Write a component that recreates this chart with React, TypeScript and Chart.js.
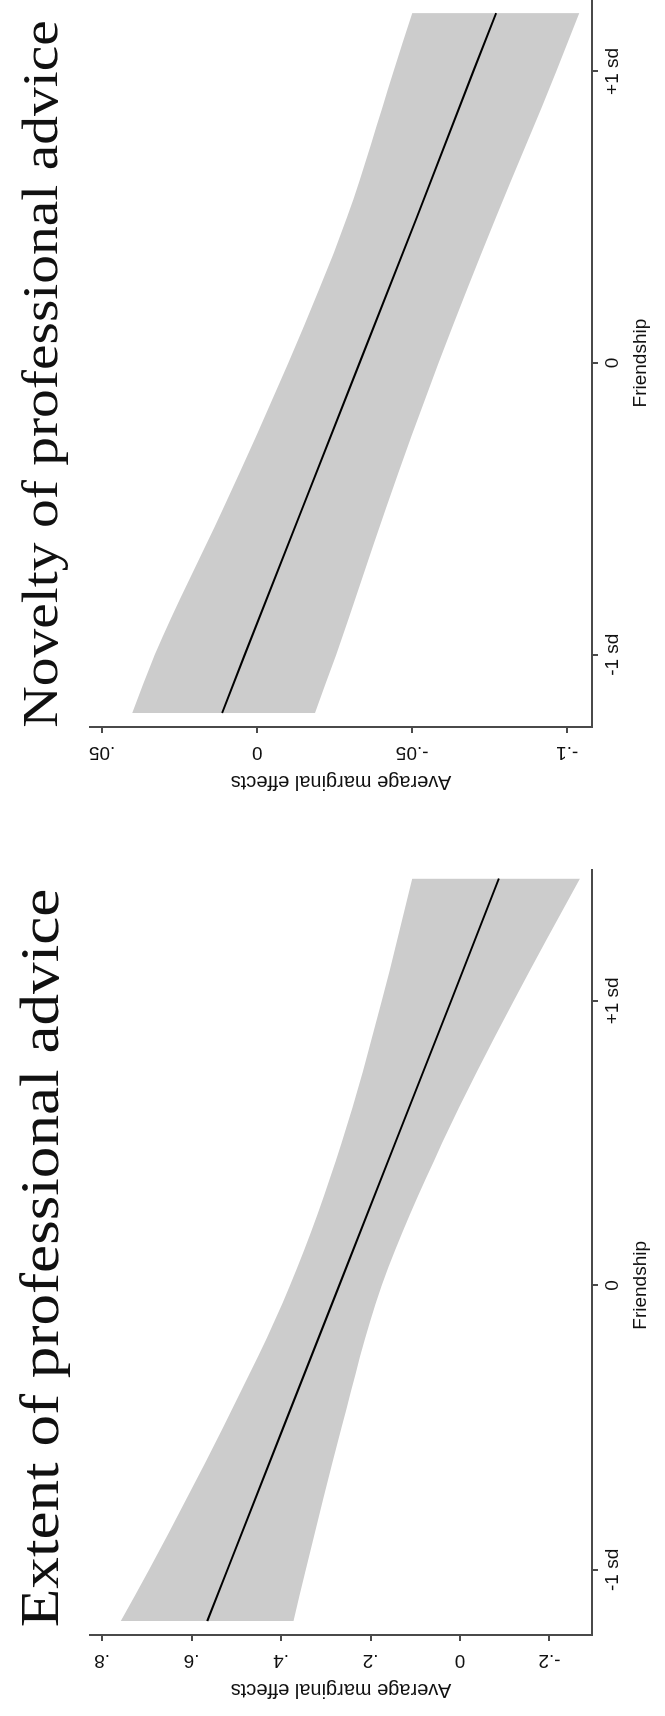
import React, { useEffect, useRef } from 'react';
import { Chart, registerables } from 'chart.js';

Chart.register(...registerables);

// ---------- data ----------
const friendshipTicks = [-1, 0, 1];
const friendshipTickLabels = ['-1 sd', '0', '+1 sd'];

const extentX = [-1.18, -1, -0.5, 0, 0.5, 1, 1.43];
const extentEffect = [0.565, 0.52, 0.395, 0.27, 0.145, 0.02, -0.087];
const extentUpper = [0.758, 0.695, 0.53, 0.38, 0.265, 0.175, 0.107];
const extentLower = [0.372, 0.345, 0.265, 0.175, 0.04, -0.12, -0.268];
const extentYTicks = [-0.2, 0, 0.2, 0.4, 0.6, 0.8];
const extentYTickLabels = ['-.2', '0', '.2', '.4', '.6', '.8'];

const noveltyX = [-1.2, -1, -0.5, 0, 0.5, 1, 1.2];
const noveltyEffect = [0.0113, 0.004, -0.0145, -0.033, -0.0515, -0.0697, -0.0771];
const noveltyUpper = [0.0403, 0.033, 0.011, -0.01, -0.029, -0.044, -0.05];
const noveltyLower = [-0.0187, -0.0255, -0.0415, -0.0585, -0.077, -0.0965, -0.1039];
const noveltyYTicks = [-0.1, -0.05, 0, 0.05];
const noveltyYTickLabels = ['-.1', '-.05', '0', '.05'];

// ---------- style ----------
const BAND = 'rgb(204,204,204)';
const AXIS = '#4a4a4a';
const TEXT = '#111111';
const SANS = '"Liberation Sans", Arial, sans-serif';
const SERIF = '"Liberation Serif", "Times New Roman", serif';
const H = 665;
const W = 1716;

type PanelCfg = {
  title: string;
  titleSize: number;
  titleStretch: number;
  titleCenter: number;
  titleBaseline: number;
  x: number[];
  effect: number[];
  upper: number[];
  lower: number[];
  yTicks: number[];
  yTickLabels: string[];
  xMin: number;
  xMax: number;
  yMin: number;
  yMax: number;
  yAxisWidth: number;
  yTitlePad: number;
  padRight: number;
  xTitleValue: number;
};

const panelText = {
  id: 'panelText',
  afterDraw(chart: any, _args: any, o: any) {
    const ctx = chart.ctx;
    const ys = chart.scales.y;
    const xs = chart.scales.x;
    ctx.save();
    ctx.fillStyle = TEXT;
    // rotated value-axis tick labels
    ctx.font = `19px ${SANS}`;
    ctx.textAlign = 'center';
    ctx.textBaseline = 'middle';
    const lx = chart.chartArea.left - 25;
    (o.values as number[]).forEach((v, i) => {
      const y = ys.getPixelForValue(v);
      ctx.save();
      ctx.translate(lx, y);
      ctx.rotate(-Math.PI / 2);
      ctx.fillText(o.labels[i], 0, 0);
      ctx.restore();
    });
    // Friendship axis title
    ctx.font = `19px ${SANS}`;
    ctx.fillText('Friendship', xs.getPixelForValue(o.xTitleValue), 641);
    // panel title
    ctx.font = `${o.titleSize}px ${SERIF}`;
    ctx.textBaseline = 'alphabetic';
    ctx.translate(o.titleCenter, o.titleBaseline);
    ctx.scale(o.titleStretch, 1);
    ctx.fillText(o.title, 0, 0);
    ctx.restore();
  },
};

function buildConfig(p: PanelCfg): any {
  const pts = (ys: number[]) => p.x.map((x, i) => ({ x, y: ys[i] }));
  const smallFont = { family: SANS, size: 19 };
  return {
    type: 'line',
    data: {
      datasets: [
        {
          data: pts(p.upper),
          borderWidth: 0,
          borderColor: 'transparent',
          backgroundColor: BAND,
          pointRadius: 0,
          fill: '+1',
          cubicInterpolationMode: 'monotone',
          order: 2,
        },
        {
          data: pts(p.lower),
          borderWidth: 0,
          borderColor: 'transparent',
          backgroundColor: BAND,
          pointRadius: 0,
          fill: false,
          cubicInterpolationMode: 'monotone',
          order: 1,
        },
        {
          data: pts(p.effect),
          borderWidth: 2,
          borderColor: '#000',
          pointRadius: 0,
          fill: false,
          order: 0,
        },
      ],
    },
    options: {
      animation: false,
      responsive: false,
      devicePixelRatio: 1,
      layout: { padding: { left: 0, right: p.padRight, top: 90, bottom: 0 } },
      plugins: {
        legend: { display: false },
        tooltip: { enabled: false },
        title: { display: false },
        panelText: {
          labels: p.yTickLabels,
          values: p.yTicks,
          title: p.title,
          titleSize: p.titleSize,
          titleStretch: p.titleStretch,
          titleCenter: p.titleCenter,
          titleBaseline: p.titleBaseline,
          xTitleValue: p.xTitleValue,
        },
      },
      scales: {
        x: {
          type: 'linear',
          min: p.xMin,
          max: p.xMax,
          afterBuildTicks: (s: any) => {
            s.ticks = friendshipTicks.map((v) => ({ value: v }));
          },
          afterFit: (s: any) => {
            s.height = H - 592;
          },
          ticks: {
            autoSkip: false,
            maxRotation: 0,
            minRotation: 0,
            padding: 3,
            color: TEXT,
            font: smallFont,
            callback: (_v: any, i: number) => friendshipTickLabels[i],
          },
          grid: { drawOnChartArea: false, drawTicks: true, tickLength: 6, color: AXIS, lineWidth: 2 },
          border: { display: true, color: AXIS, width: 2 },
          title: { display: false },
        },
        y: {
          type: 'linear',
          min: p.yMin,
          max: p.yMax,
          afterBuildTicks: (s: any) => {
            s.ticks = p.yTicks.map((v) => ({ value: v }));
          },
          afterFit: (s: any) => {
            s.width = p.yAxisWidth;
          },
          ticks: { display: false },
          grid: { drawOnChartArea: false, drawTicks: true, tickLength: 6, color: AXIS, lineWidth: 2 },
          border: { display: true, color: AXIS, width: 2 },
          title: {
            display: true,
            text: 'Average marginal effects',
            color: TEXT,
            font: { family: SANS, size: 20 },
            padding: { top: p.yTitlePad, bottom: 0 },
          },
        },
      },
    },
    plugins: [panelText],
  };
}

const extentCfg: PanelCfg = {
  title: 'Extent of professional advice',
  titleSize: 54,
  titleStretch: 1.17,
  titleCenter: 458,
  titleBaseline: 58,
  x: extentX,
  effect: extentEffect,
  upper: extentUpper,
  lower: extentLower,
  yTicks: extentYTicks,
  yTickLabels: extentYTickLabels,
  xMin: -1.229,
  xMax: 1.46,
  yMin: -0.295,
  yMax: 0.827,
  yAxisWidth: 81,
  yTitlePad: 14,
  padRight: 59,
  xTitleValue: 0,
};

const noveltyCfg: PanelCfg = {
  title: 'Novelty of professional advice',
  titleSize: 50,
  titleStretch: 1.15,
  titleCenter: 437,
  titleBaseline: 57,
  x: noveltyX,
  effect: noveltyEffect,
  upper: noveltyUpper,
  lower: noveltyLower,
  yTicks: noveltyYTicks,
  yTickLabels: noveltyYTickLabels,
  xMin: -1.248,
  xMax: 1.245,
  yMin: -0.108,
  yMax: 0.0539,
  yAxisWidth: 84,
  yTitlePad: 17,
  padRight: 0,
  xTitleValue: 0,
};

function Panel({ cfg, left, width }: { cfg: PanelCfg; left: number; width: number }) {
  const ref = useRef<HTMLCanvasElement>(null);
  useEffect(() => {
    if (!ref.current) return;
    const chart = new Chart(ref.current, buildConfig(cfg));
    return () => chart.destroy();
  }, [cfg]);
  return (
    <canvas
      ref={ref}
      width={width}
      height={H}
      style={{ position: 'absolute', left, top: 0, width, height: H, display: 'block' }}
    />
  );
}

export default function App() {
  return (
    <div
      style={{
        position: 'absolute',
        left: 0,
        top: 0,
        width: H,
        height: W,
        overflow: 'hidden',
        background: '#fff',
      }}
    >
      <div
        style={{
          position: 'absolute',
          left: 0,
          top: 0,
          width: W,
          height: H,
          transformOrigin: '0 0',
          transform: `translateY(${W}px) rotate(-90deg)`,
        }}
      >
        <Panel cfg={extentCfg} left={0} width={905} />
        <Panel cfg={noveltyCfg} left={905} width={W - 905} />
      </div>
    </div>
  );
}
